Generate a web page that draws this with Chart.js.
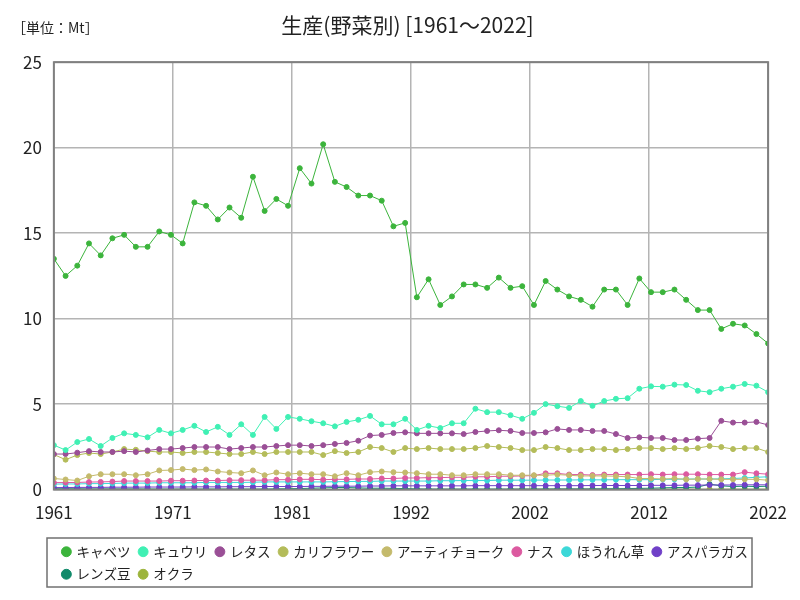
<!DOCTYPE html>
<html lang="ja">
<head>
<meta charset="UTF-8">
<title>生産(野菜別)</title>
<script src="https://cdn.jsdelivr.net/npm/chart.js"></script>
<style>
  body { margin: 0; background: #fff; }
  #wrap { width: 800px; height: 600px; position: relative; }
</style>
</head>
<body>
<div id="wrap"><canvas id="c"></canvas></div>
<script>
const years = [];
for (let y = 1961; y <= 2022; y++) years.push(y);

const cabbage = [13.5, 12.5, 13.1, 14.4, 13.7, 14.7, 14.9, 14.2, 14.2, 15.1,
  14.9, 14.4, 16.8, 16.6, 15.8, 16.5, 15.9, 18.3, 16.3, 17.0,
  16.6, 18.8, 17.9, 20.2, 18.0, 17.7, 17.2, 17.2, 16.9, 15.4,
  15.6, 11.25, 12.3, 10.8, 11.3, 12.0, 12.0, 11.8, 12.4, 11.8,
  11.9, 10.8, 12.2, 11.7, 11.3, 11.1, 10.7, 11.7, 11.7, 10.8,
  12.35, 11.55, 11.55, 11.7, 11.1, 10.5, 10.5, 9.4, 9.7, 9.6,
  9.1, 8.55];
const cucumber = [2.6, 2.31, 2.78, 2.96, 2.55, 3.02, 3.29, 3.2, 3.06, 3.49,
  3.29, 3.49, 3.73, 3.37, 3.67, 3.2, 3.82, 3.2, 4.25, 3.55,
  4.25, 4.14, 4.0, 3.88, 3.7, 3.96, 4.08, 4.31, 3.82, 3.82,
  4.14, 3.49, 3.73, 3.6, 3.88, 3.88, 4.73, 4.53, 4.53, 4.35,
  4.14, 4.49, 5.0, 4.88, 4.78, 5.18, 4.9, 5.18, 5.31, 5.35,
  5.9, 6.04, 6.02, 6.14, 6.12, 5.78, 5.7, 5.9, 6.02, 6.18,
  6.08, 5.7];
const lettuce = [2.08, 2.08, 2.16, 2.25, 2.2, 2.2, 2.25, 2.2, 2.29, 2.37,
  2.37, 2.43, 2.49, 2.49, 2.49, 2.37, 2.43, 2.49, 2.49, 2.55,
  2.6, 2.6, 2.55, 2.6, 2.67, 2.73, 2.86, 3.16, 3.2, 3.31,
  3.35, 3.29, 3.29, 3.29, 3.29, 3.25, 3.37, 3.43, 3.47, 3.43,
  3.31, 3.31, 3.35, 3.55, 3.49, 3.49, 3.43, 3.43, 3.25, 3.02,
  3.06, 3.02, 3.02, 2.9, 2.9, 2.98, 3.02, 4.02, 3.92, 3.92,
  3.96, 3.78];
const cauliflower = [2.05, 1.75, 2.02, 2.14, 2.08, 2.2, 2.37, 2.33, 2.25, 2.2,
  2.2, 2.14, 2.2, 2.2, 2.14, 2.08, 2.08, 2.2, 2.08, 2.2,
  2.2, 2.2, 2.2, 2.02, 2.25, 2.14, 2.2, 2.49, 2.43, 2.2,
  2.43, 2.37, 2.43, 2.37, 2.37, 2.37, 2.43, 2.55, 2.49, 2.43,
  2.31, 2.31, 2.49, 2.43, 2.31, 2.31, 2.37, 2.37, 2.31, 2.37,
  2.43, 2.43, 2.37, 2.43, 2.37, 2.43, 2.55, 2.49, 2.37, 2.43,
  2.43, 2.2];
const artichoke = [0.65, 0.59, 0.53, 0.78, 0.9, 0.9, 0.9, 0.84, 0.9, 1.12,
  1.14, 1.2, 1.14, 1.18, 1.06, 1.0, 0.96, 1.12, 0.84, 1.0,
  0.9, 0.96, 0.9, 0.9, 0.78, 0.96, 0.84, 1.02, 1.06, 1.02,
  1.0, 0.96, 0.9, 0.9, 0.84, 0.84, 0.9, 0.9, 0.9, 0.84,
  0.84, 0.84, 0.84, 0.88, 0.84, 0.8, 0.8, 0.8, 0.78, 0.75,
  0.65, 0.65, 0.62, 0.65, 0.6, 0.62, 0.62, 0.6, 0.6, 0.6,
  0.6, 0.55];
const eggplant = [0.41, 0.41, 0.42, 0.44, 0.45, 0.47, 0.5, 0.5, 0.5, 0.5,
  0.52, 0.52, 0.53, 0.53, 0.53, 0.55, 0.55, 0.55, 0.55, 0.58,
  0.58, 0.6, 0.6, 0.58, 0.6, 0.6, 0.62, 0.62, 0.65, 0.65,
  0.68, 0.68, 0.7, 0.7, 0.72, 0.72, 0.75, 0.75, 0.78, 0.78,
  0.8, 0.82, 0.95, 0.95, 0.88, 0.88, 0.85, 0.88, 0.88, 0.88,
  0.88, 0.9, 0.88, 0.9, 0.9, 0.9, 0.88, 0.88, 0.88, 1.02,
  0.95, 0.9];
const spinach = [0.32, 0.33, 0.33, 0.35, 0.35, 0.36, 0.38, 0.38, 0.38, 0.4,
  0.4, 0.4, 0.4, 0.42, 0.42, 0.42, 0.42, 0.43, 0.45, 0.45,
  0.45, 0.45, 0.45, 0.45, 0.46, 0.47, 0.48, 0.48, 0.5, 0.5,
  0.5, 0.5, 0.5, 0.52, 0.52, 0.53, 0.53, 0.53, 0.55, 0.55,
  0.55, 0.55, 0.56, 0.56, 0.56, 0.57, 0.57, 0.57, 0.58, 0.58,
  0.58, 0.58, 0.6, 0.6, 0.62, 0.62, 0.62, 0.63, 0.65, 0.68,
  0.72, 0.75];
const asparagus = [0.12, 0.12, 0.13, 0.13, 0.13, 0.14, 0.14, 0.14, 0.15, 0.15,
  0.15, 0.15, 0.16, 0.16, 0.16, 0.17, 0.17, 0.17, 0.18, 0.18,
  0.18, 0.18, 0.19, 0.19, 0.2, 0.2, 0.2, 0.21, 0.21, 0.22,
  0.22, 0.22, 0.22, 0.22, 0.22, 0.22, 0.23, 0.23, 0.23, 0.23,
  0.23, 0.23, 0.23, 0.23, 0.23, 0.23, 0.24, 0.24, 0.24, 0.24,
  0.24, 0.25, 0.25, 0.25, 0.26, 0.26, 0.27, 0.27, 0.27, 0.28,
  0.28, 0.28];
const lentils = [0.05, 0.05, 0.05, 0.04, 0.04, 0.04, 0.04, 0.04, 0.03, 0.03,
  0.03, 0.03, 0.03, 0.03, 0.03, 0.03, 0.03, 0.03, 0.03, 0.04,
  0.05, 0.06, 0.08, 0.1, 0.12, 0.12, 0.1, 0.08, 0.08, 0.07,
  0.06, 0.04, 0.03, 0.03, 0.03, 0.03, 0.03, 0.03, 0.03, 0.03,
  0.03, 0.03, 0.03, 0.04, 0.04, 0.04, 0.04, 0.05, 0.05, 0.06,
  0.07, 0.08, 0.1, 0.12, 0.12, 0.15, 0.32, 0.22, 0.18, 0.2,
  0.18, 0.2];
const okra = [0.01, 0.01, 0.01, 0.01, 0.01, 0.01, 0.01, 0.01, 0.01, 0.01,
  0.01, 0.01, 0.01, 0.01, 0.01, 0.01, 0.01, 0.01, 0.01, 0.01,
  0.01, 0.01, 0.01, 0.01, 0.01, 0.01, 0.01, 0.01, 0.01, 0.01,
  0.01, 0.01, 0.01, 0.01, 0.01, 0.01, 0.01, 0.01, 0.01, 0.01,
  0.02, 0.02, 0.02, 0.02, 0.02, 0.02, 0.02, 0.02, 0.02, 0.02,
  0.02, 0.02, 0.02, 0.02, 0.02, 0.02, 0.02, 0.02, 0.02, 0.02,
  0.02, 0.02];

const names = ['キャベツ', 'キュウリ', 'レタス', 'カリフラワー', 'アーティチョーク', 'ナス', 'ほうれん草', 'アスパラガス', 'レンズ豆', 'オクラ'];
const series = [cabbage, cucumber, lettuce, cauliflower, artichoke, eggplant, spinach, asparagus, lentils, okra];
const colors = ['#3cb43c', '#40f0b4', '#9a4f96', '#b4bc5a', '#c4ba6c', '#dc5aa0', '#3cd8d8', '#7040c8', '#108a6a', '#9cb43c'];

const jp = '"Noto Sans CJK JP", sans-serif';
const narrow = '"Liberation Sans Narrow", "Noto Sans CJK JP", sans-serif';

const datasets = names.map((n, k) => ({
  label: n,
  data: years.map((y, i) => ({ x: y, y: series[k][i] })),
  borderColor: colors[k],
  backgroundColor: colors[k],
  borderWidth: 1,
  pointRadius: 2.5,
  pointHoverRadius: 3
}));

// frame around plot area, frame around legend, unit label
const extras = {
  id: 'extras',
  afterDraw(chart) {
    const ctx = chart.ctx;
    const a = chart.chartArea;
    ctx.save();
    ctx.strokeStyle = '#808080';
    ctx.lineWidth = 2;
    ctx.strokeRect(a.left, a.top, a.right - a.left, a.bottom - a.top);
    const lg = chart.legend;
    ctx.lineWidth = 1.5;
    ctx.strokeStyle = '#707070';
    ctx.strokeRect(47, lg.top + 2, 705, lg.height - 6);
    ctx.fillStyle = '#222';
    ctx.font = '14px ' + jp;
    ctx.textBaseline = 'middle';
    ctx.fillText('［単位：Mt］', 12, 28);
    ctx.restore();
  }
};

new Chart(document.getElementById('c'), {
  type: 'line',
  data: { datasets: datasets },
  options: {
    responsive: true,
    maintainAspectRatio: false,
    animation: false,
    layout: { padding: { top: 8, left: 11, right: -4, bottom: 9 } },
    scales: {
      x: {
        type: 'linear',
        min: 1961,
        max: 2022,
        afterBuildTicks(axis) {
          const t = [];
          for (let i = 0; i <= 6; i++) t.push({ value: 1961 + i * 61 / 6 });
          axis.ticks = t;
        },
        ticks: {
          callback: v => String(Math.round(v)),
          color: '#222',
          font: { size: 17, family: narrow },
          maxRotation: 0,
          padding: 13
        },
        grid: { color: '#b4b4b4', lineWidth: 1.5, drawTicks: false },
        border: { display: false }
      },
      y: {
        min: 0,
        max: 25,
        ticks: {
          stepSize: 5,
          color: '#222',
          font: { size: 17, family: narrow },
          padding: 12
        },
        grid: { color: '#b4b4b4', lineWidth: 1.5, drawTicks: false },
        border: { display: false }
      }
    },
    plugins: {
      title: {
        display: true,
        text: '生産(野菜別) [1961～2022]',
        color: '#222',
        font: { size: 21, family: jp, weight: 'normal' },
        padding: { top: 4, bottom: 25 }
      },
      legend: {
        position: 'bottom',
        fullSize: false,
        align: 'start',
        labels: {
          usePointStyle: true,
          pointStyle: 'circle',
          boxWidth: 7,
          boxHeight: 7,
          padding: 9,
          color: '#222',
          font: { size: 13.5, family: jp }
        }
      },
      tooltip: { enabled: false }
    }
  },
  plugins: [extras]
});
</script>
</body>
</html>
